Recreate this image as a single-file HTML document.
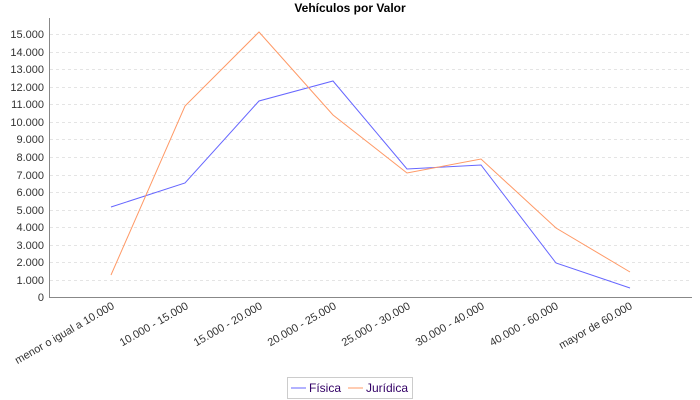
<!DOCTYPE html>
<html><head><meta charset="utf-8"><style>body{margin:0;background:#fff}svg{display:block}</style></head><body>
<svg width="700" height="400" xmlns="http://www.w3.org/2000/svg" font-family="Liberation Sans, Arial, sans-serif">
<rect width="700" height="400" fill="#fff"/>
<text x="350" y="12" text-anchor="middle" font-size="12" font-weight="bold" fill="#000">Vehículos por Valor</text>
<g stroke="#e4e4e4" stroke-dasharray="3,3" stroke-width="1">
<line x1="50" x2="692" y1="280.5" y2="280.5"/><line x1="50" x2="692" y1="262.5" y2="262.5"/><line x1="50" x2="692" y1="245.5" y2="245.5"/><line x1="50" x2="692" y1="227.5" y2="227.5"/><line x1="50" x2="692" y1="210.5" y2="210.5"/><line x1="50" x2="692" y1="192.5" y2="192.5"/><line x1="50" x2="692" y1="175.5" y2="175.5"/><line x1="50" x2="692" y1="157.5" y2="157.5"/><line x1="50" x2="692" y1="139.5" y2="139.5"/><line x1="50" x2="692" y1="122.5" y2="122.5"/><line x1="50" x2="692" y1="104.5" y2="104.5"/><line x1="50" x2="692" y1="87.5" y2="87.5"/><line x1="50" x2="692" y1="69.5" y2="69.5"/><line x1="50" x2="692" y1="52.5" y2="52.5"/><line x1="50" x2="692" y1="34.5" y2="34.5"/>
</g>
<line x1="49.5" y1="18" x2="49.5" y2="298" stroke="#888"/>
<line x1="49" y1="297.5" x2="692" y2="297.5" stroke="#888"/>
<g font-size="11" fill="#333" text-anchor="end">
<text x="44" y="301">0</text><text x="44" y="284">1.000</text><text x="44" y="266">2.000</text><text x="44" y="249">3.000</text><text x="44" y="231">4.000</text><text x="44" y="214">5.000</text><text x="44" y="196">6.000</text><text x="44" y="179">7.000</text><text x="44" y="161">8.000</text><text x="44" y="143">9.000</text><text x="44" y="126">10.000</text><text x="44" y="108">11.000</text><text x="44" y="91">12.000</text><text x="44" y="73">13.000</text><text x="44" y="56">14.000</text><text x="44" y="38">15.000</text>
</g>
<g font-size="11" fill="#333" text-anchor="end">
<text transform="translate(115,308) rotate(-30)">menor o igual a 10.000</text>
<text transform="translate(189,308) rotate(-30)">10.000 - 15.000</text>
<text transform="translate(263,308) rotate(-30)">15.000 - 20.000</text>
<text transform="translate(337,308) rotate(-30)">20.000 - 25.000</text>
<text transform="translate(411,308) rotate(-30)">25.000 - 30.000</text>
<text transform="translate(485,308) rotate(-30)">30.000 - 40.000</text>
<text transform="translate(559,308) rotate(-30)">40.000 - 60.000</text>
<text transform="translate(633,308) rotate(-30)">mayor de 60.000</text>
</g>
<polyline fill="none" stroke="#6666ff" stroke-width="1" points="111,207 185,183 259,101 333,81 407,169 481,165 556,263 630,288"/>
<polyline fill="none" stroke="#ff9966" stroke-width="1" points="111,275 185,106 259,32 333,115 407,173 481,159 556,228 630,272"/>
<rect x="287.5" y="377.5" width="125" height="21" fill="#fff" stroke="#ccc"/>
<line x1="291" y1="388" x2="306" y2="388" stroke="#6666ff"/>
<text x="309" y="392" font-size="12" fill="#330066">Física</text>
<line x1="348" y1="388" x2="363" y2="388" stroke="#ff9966"/>
<text x="366" y="392" font-size="12" fill="#330066">Jurídica</text>
</svg>
</body></html>
